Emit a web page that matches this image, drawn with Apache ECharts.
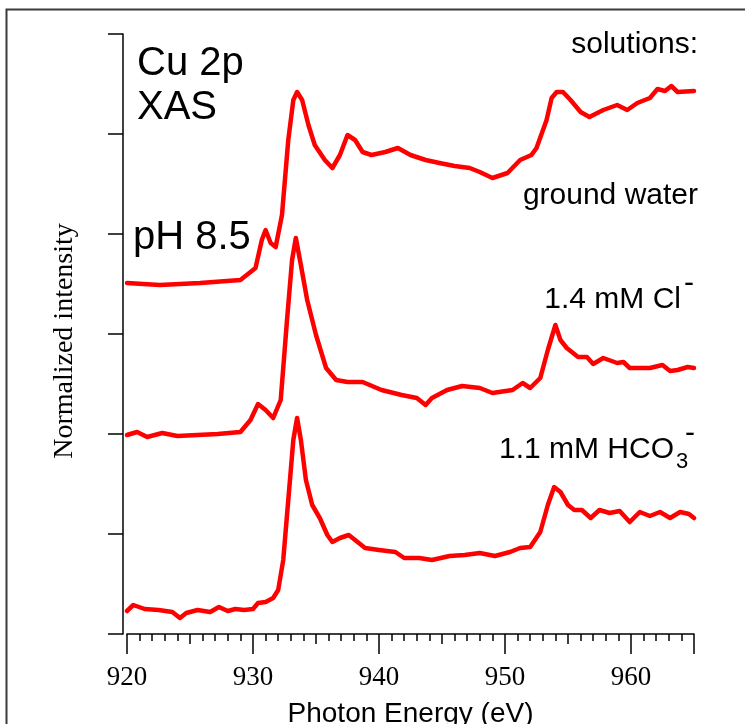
<!DOCTYPE html>
<html>
<head>
<meta charset="utf-8">
<title>Cu 2p XAS</title>
<script src="https://cdn.jsdelivr.net/npm/echarts@6/dist/echarts.min.js"></script>
<style>
  html, body { margin: 0; padding: 0; background: #fff; }
  #chart { width: 745px; height: 724px; }
</style>
</head>
<body>
<div id="chart"></div>
<script>
// Photon energy (eV) and normalized intensity (offset per trace) for each solution
const groundWaterEnergy = [920.0, 922.6, 925.8, 929.0, 930.2, 930.7, 931.0, 931.4, 931.8, 932.3, 932.8, 933.2, 933.5, 933.9, 934.4, 934.9, 935.7, 936.3, 936.9, 937.5, 938.1, 938.7, 939.4, 940.5, 941.5, 942.5, 943.7, 944.8, 946.0, 947.2, 948.0, 949.0, 950.2, 951.2, 952.1, 952.5, 953.3, 953.7, 954.1, 954.6, 955.2, 956.0, 956.7, 957.8, 958.9, 959.7, 960.5, 961.5, 962.1, 962.7, 963.2, 963.7, 965.0];
const groundWaterIntensity = [3.51, 3.49, 3.51, 3.54, 3.66, 3.94, 4.04, 3.91, 3.87, 4.19, 4.94, 5.34, 5.42, 5.34, 5.09, 4.89, 4.74, 4.66, 4.79, 4.99, 4.94, 4.82, 4.79, 4.82, 4.86, 4.79, 4.74, 4.71, 4.68, 4.66, 4.62, 4.56, 4.61, 4.74, 4.79, 4.86, 5.14, 5.36, 5.42, 5.42, 5.34, 5.22, 5.17, 5.24, 5.29, 5.24, 5.31, 5.36, 5.45, 5.43, 5.48, 5.42, 5.43];

const chlorideEnergy = [920.0, 920.8, 921.6, 922.8, 924.0, 925.6, 927.2, 929.0, 929.8, 930.4, 931.0, 931.6, 932.2, 932.7, 933.1, 933.4, 933.8, 934.3, 935.0, 935.8, 936.6, 937.5, 938.7, 940.2, 941.8, 943.0, 943.7, 944.2, 945.4, 946.6, 948.0, 949.0, 950.6, 951.4, 952.0, 952.8, 953.4, 954.0, 954.4, 954.9, 955.8, 956.5, 957.0, 957.8, 958.9, 959.4, 959.9, 961.5, 962.5, 963.1, 963.7, 964.5, 965.0];
const chlorideIntensity = [1.99, 2.02, 1.97, 2.01, 1.98, 1.99, 2.00, 2.02, 2.14, 2.30, 2.24, 2.16, 2.34, 3.14, 3.74, 3.96, 3.69, 3.34, 2.99, 2.66, 2.54, 2.52, 2.52, 2.44, 2.39, 2.36, 2.29, 2.36, 2.44, 2.48, 2.46, 2.41, 2.44, 2.51, 2.46, 2.56, 2.84, 3.09, 2.94, 2.86, 2.77, 2.77, 2.70, 2.76, 2.71, 2.72, 2.66, 2.66, 2.69, 2.63, 2.64, 2.67, 2.66];

const bicarbonateEnergy = [920.0, 920.5, 921.4, 922.5, 923.6, 924.2, 924.7, 925.6, 926.6, 927.3, 928.0, 928.6, 929.3, 930.0, 930.4, 931.0, 931.6, 932.0, 932.4, 932.8, 933.2, 933.5, 933.8, 934.2, 934.7, 935.3, 935.9, 936.3, 936.9, 937.6, 938.3, 938.9, 940.0, 941.3, 942.0, 943.2, 944.2, 945.6, 946.8, 948.0, 949.2, 950.4, 951.2, 952.0, 952.8, 953.4, 953.9, 954.4, 955.0, 955.5, 956.1, 956.8, 957.5, 958.3, 959.1, 959.9, 960.7, 961.5, 962.3, 963.1, 963.9, 964.6, 965.0];
const bicarbonateIntensity = [0.23, 0.29, 0.25, 0.24, 0.22, 0.16, 0.21, 0.24, 0.22, 0.27, 0.23, 0.25, 0.24, 0.25, 0.31, 0.32, 0.36, 0.44, 0.74, 1.34, 1.94, 2.16, 1.94, 1.54, 1.29, 1.16, 0.99, 0.92, 0.96, 0.99, 0.92, 0.86, 0.84, 0.82, 0.76, 0.76, 0.74, 0.78, 0.79, 0.81, 0.78, 0.82, 0.86, 0.87, 1.02, 1.29, 1.47, 1.42, 1.29, 1.24, 1.24, 1.16, 1.24, 1.21, 1.23, 1.12, 1.22, 1.18, 1.22, 1.16, 1.22, 1.20, 1.16];

// Axis settings
const energyMin = 920, energyMax = 965;
const intensityMin = 0, intensityMax = 6;

function pairs(xs, ys) { return xs.map((x, i) => [x, ys[i]]); }

const SANS = '"Liberation Sans", Arial, sans-serif';
const SERIF = '"Liberation Serif", "Times New Roman", serif';
const RED = '#ff0000';

function trace(name, xs, ys) {
  return {
    name, type: 'line', xAxisIndex: 0, yAxisIndex: 0,
    data: pairs(xs, ys), showSymbol: false, smooth: false,
    lineStyle: { color: RED, width: 4.5, join: 'round', cap: 'round' },
    animation: false, z: 3
  };
}

function label(text, x, y, size, align) {
  return {
    type: 'text', x, y, z: 10,
    style: { text, fill: '#000', font: size + 'px ' + SANS, textAlign: align || 'left', textVerticalAlign: 'middle' }
  };
}

const chart = echarts.init(document.getElementById('chart'), null, { renderer: 'canvas' });
chart.setOption({
  backgroundColor: '#fff',
  animation: false,
  grid: { left: 127, right: 51, top: 34, bottom: 90, containLabel: false, outerBoundsMode: 'none' },
  xAxis: [
    {
      type: 'value', position: 'bottom', min: energyMin, max: energyMax, interval: 5, offset: 6,
      name: 'Photon Energy (eV)', nameLocation: 'middle', nameGap: 60,
      nameTextStyle: { fontFamily: SANS, fontSize: 28, color: '#000' },
      axisLine: { show: true, lineStyle: { color: '#000', width: 1.5 } },
      axisTick: { show: true, length: 10, lineStyle: { color: '#000', width: 1.5 } },
      minorTick: { show: true, splitNumber: 5, length: 7, lineStyle: { color: '#000', width: 1.5 } },
      axisLabel: {
        show: true, margin: 24, color: '#000', fontFamily: SERIF, fontSize: 27,
        formatter: v => (v % 10 === 0 ? String(v) : '')
      },
      splitLine: { show: false }, minorSplitLine: { show: false }
    },
    {
      type: 'value', position: 'bottom', min: energyMin, max: energyMax, interval: 10, offset: 6,
      axisLine: { show: false },
      axisTick: { show: true, length: 14, lineStyle: { color: '#000', width: 1.5 } },
      axisLabel: { show: false }, splitLine: { show: false }
    }
  ],
  yAxis: {
    type: 'value', min: intensityMin, max: intensityMax, interval: 1, offset: 4,
    name: 'Normalized intensity', nameLocation: 'middle', nameRotate: 90, nameGap: 44,
    nameTextStyle: { fontFamily: SERIF, fontSize: 28, color: '#000', padding: [0, 14, 0, 0] },
    axisLine: { show: true, lineStyle: { color: '#000', width: 1.5 } },
    axisTick: { show: true, length: 15, lineStyle: { color: '#000', width: 1.5 } },
    axisLabel: { show: false }, splitLine: { show: false }
  },
  series: [
    trace('ground water', groundWaterEnergy, groundWaterIntensity),
    trace('1.4 mM Cl-', chlorideEnergy, chlorideIntensity),
    trace('1.1 mM HCO3-', bicarbonateEnergy, bicarbonateIntensity)
  ],
  graphic: [
    { type: 'rect', z: 1, shape: { x: 6.5, y: 9.5, width: 800, height: 800 }, style: { fill: 'none', stroke: '#3a3a3a', lineWidth: 2 } },
    label('Cu 2p', 137, 64, 40),
    label('XAS', 137, 108, 40),
    label('pH 8.5', 133, 238, 40),
    label('solutions:', 698, 45, 30, 'right'),
    label('ground water', 698, 196, 30, 'right'),
    label('1.4 mM Cl', 681, 300, 30, 'right'),
    label('-', 684, 284, 30, 'left'),
    label('1.1 mM HCO', 674, 450, 30, 'right'),
    label('3', 676, 462, 22, 'left'),
    label('-', 685, 434, 30, 'left')
  ]
});
</script>
</body>
</html>
